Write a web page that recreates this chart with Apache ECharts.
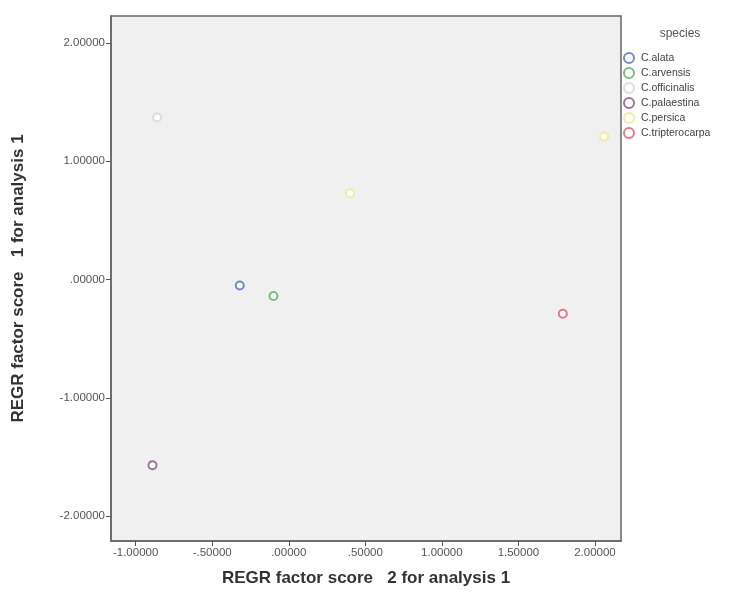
<!DOCTYPE html>
<html>
<head>
<meta charset="utf-8">
<script src="https://cdn.jsdelivr.net/npm/echarts@6/dist/echarts.min.js"></script>
<style>
html,body{margin:0;padding:0;background:#fff;}
#chart{width:739px;height:597px;}
</style>
</head>
<body>
<div id="chart"></div>
<script>
// Data (x = factor score 2, y = factor score 1)
const speciesNames = ["C.alata", "C.arvensis", "C.officinalis", "C.palaestina", "C.persica", "C.tripterocarpa"];
const alata = [[-0.32, -0.05]];
const arvensis = [[-0.10, -0.14]];
const officinalis = [[-0.86, 1.37]];
const palaestina = [[-0.89, -1.57]];
const persica = [[0.40, 0.73], [2.06, 1.21]];
const tripterocarpa = [[1.79, -0.29]];
const xTicks = [-1.0, -0.5, 0.0, 0.5, 1.0, 1.5, 2.0];
const yTicks = [-2.0, -1.0, 0.0, 1.0, 2.0];
const xTitle = "REGR factor score   2 for analysis 1";
const yTitle = "REGR factor score   1 for analysis 1";
const legendTitle = "species";

const seriesData = [alata, arvensis, officinalis, palaestina, persica, tripterocarpa];
const colors = ["#4f6fb0", "#55b060", "#d6d6d6", "#86508a", "#eeea8c", "#e2576a"];

function spssFmt(v) {
  let s = Math.abs(v).toFixed(5);
  if (s.startsWith("0.")) s = s.slice(1);
  return (v < 0 ? "-" : "") + s;
}

const chart = echarts.init(document.getElementById('chart'), null, {renderer: 'canvas'});
const font = "'Liberation Sans', Arial, sans-serif";

chart.setOption({
  backgroundColor: '#ffffff',
  animation: false,
  color: colors,
  title: {
    text: legendTitle,
    left: 675, top: 23, textAlign: 'center',
    textStyle: {fontFamily: font, fontSize: 12, fontWeight: 'normal', color: '#555'}
  },
  legend: {
    data: speciesNames,
    orient: 'vertical',
    left: 618, top: 47,
    itemWidth: 10, itemHeight: 10, itemGap: 3,
    textStyle: {fontFamily: font, fontSize: 10.5, color: '#444', lineHeight: 10, padding: [0, 0, 0, 2]}
  },
  grid: {
    left: 111, top: 16, right: 118, bottom: 56,
    show: true, backgroundColor: '#f0f0f0', borderColor: '#666', borderWidth: 1.5
  },
  xAxis: {
    type: 'value', min: -1.161, max: 2.17,
    name: xTitle, nameLocation: 'middle', nameGap: 29,
    nameTextStyle: {fontFamily: font, fontSize: 17, fontWeight: 'bold', color: '#333'},
    axisLine: {show: true, onZero: false, lineStyle: {color: '#666', width: 1.5}},
    axisTick: {show: true, length: 5, customValues: xTicks, lineStyle: {color: '#555'}},
    axisLabel: {customValues: xTicks, formatter: spssFmt, fontFamily: font, fontSize: 11.5, color: '#555', margin: 6},
    splitLine: {show: false}
  },
  yAxis: {
    type: 'value', min: -2.211, max: 2.228,
    name: yTitle, nameLocation: 'middle', nameGap: 84, nameRotate: 90,
    nameTextStyle: {fontFamily: font, fontSize: 17, fontWeight: 'bold', color: '#333'},
    axisLine: {show: true, onZero: false, lineStyle: {color: '#666', width: 1.5}},
    axisTick: {show: true, length: 5, customValues: yTicks, lineStyle: {color: '#555'}},
    axisLabel: {customValues: yTicks, formatter: spssFmt, fontFamily: font, fontSize: 11.5, color: '#555', margin: 6},
    splitLine: {show: false}
  },
  series: speciesNames.map((n, i) => ({
    name: n,
    type: 'scatter',
    symbol: 'emptyCircle',
    symbolSize: 8,
    data: seriesData[i],
    itemStyle: {borderWidth: 1.5, color: colors[i], borderColor: colors[i]}
  }))
});
</script>
</body>
</html>
